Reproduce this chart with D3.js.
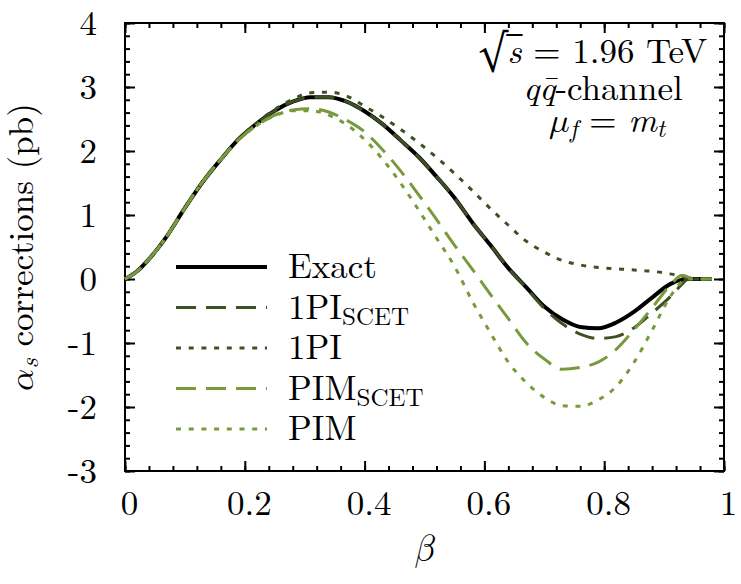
<!DOCTYPE html>
<html>
<head>
<meta charset="utf-8">
<script src="https://cdn.jsdelivr.net/npm/d3@7/dist/d3.min.js"></script>
<style>
  body { margin: 0; background: #fff; }
</style>
</head>
<body>
<div id="main"></div>
<script>
'use strict';
// - - - - - - - - - -

// data
const betaGrid = [0, 0.02, 0.04, 0.07, 0.10, 0.13, 0.16, 0.19, 0.22, 0.25, 0.28, 0.31, 0.34, 0.37, 0.40, 0.43, 0.46, 0.49, 0.52, 0.55, 0.58, 0.61, 0.64, 0.67, 0.70, 0.73, 0.76, 0.79, 0.82, 0.85, 0.88, 0.91, 0.93, 0.94, 0.96, 0.98];
const exactValues = [0, 0.12, 0.31, 0.67, 1.11, 1.52, 1.87, 2.19, 2.43, 2.63, 2.77, 2.84, 2.84, 2.77, 2.62, 2.42, 2.17, 1.91, 1.60, 1.27, 0.88, 0.53, 0.17, -0.13, -0.43, -0.63, -0.75, -0.77, -0.68, -0.51, -0.29, -0.08, -0.01, 0, 0, 0];
const onePiScetValues = [0, 0.12, 0.31, 0.67, 1.11, 1.52, 1.87, 2.19, 2.43, 2.63, 2.77, 2.84, 2.84, 2.77, 2.62, 2.42, 2.17, 1.91, 1.60, 1.27, 0.88, 0.53, 0.17, -0.14, -0.46, -0.70, -0.86, -0.93, -0.90, -0.76, -0.53, -0.28, -0.08, 0, 0, 0];
const onePiValues = [0, 0.12, 0.31, 0.67, 1.11, 1.52, 1.87, 2.19, 2.44, 2.65, 2.81, 2.91, 2.92, 2.86, 2.70, 2.53, 2.34, 2.13, 1.90, 1.65, 1.38, 1.10, 0.84, 0.59, 0.42, 0.29, 0.22, 0.18, 0.16, 0.14, 0.12, 0.08, 0.04, 0, 0, 0];
const pimScetValues = [0, 0.12, 0.31, 0.67, 1.11, 1.52, 1.87, 2.18, 2.40, 2.56, 2.64, 2.66, 2.61, 2.48, 2.30, 2.02, 1.69, 1.32, 0.93, 0.53, 0.15, -0.24, -0.62, -1.00, -1.25, -1.41, -1.38, -1.30, -1.10, -0.79, -0.45, -0.10, 0.06, 0.03, 0, 0];
const pimValues = [0, 0.12, 0.31, 0.67, 1.11, 1.52, 1.87, 2.18, 2.40, 2.55, 2.63, 2.63, 2.56, 2.41, 2.18, 1.87, 1.50, 1.08, 0.64, 0.20, -0.35, -0.84, -1.30, -1.62, -1.85, -1.98, -1.99, -1.89, -1.68, -1.30, -0.80, -0.28, -0.04, 0, 0, 0];

const seriesNames = ['Exact', '1PI', '1PI', 'PIM', 'PIM'];
const seriesSubs = ['', 'SCET', '', 'SCET', ''];
const xTicks = [0, 0.2, 0.4, 0.6, 0.8, 1];
const xTickLabels = ['0', '0.2', '0.4', '0.6', '0.8', '1'];
const yTicks = [-3, -2, -1, 0, 1, 2, 3, 4];
const yTickLabels = ['-3', '-2', '-1', '0', '1', '2', '3', '4'];

// configuration
const canvas = {
  context: '#main',
  width: 741,
  height: 584,
  padding: { top: 23, right: 17, bottom: 113, left: 125 }
};
const lm = '"Latin Modern Roman", "Liberation Serif", serif';
const lmMath = '"Latin Modern Math", "Latin Modern Roman", serif';
const stix = '"STIX Two Math", "Liberation Serif", serif';
const fontSize = 35;
const dark = '#3e5125', light = '#789a3d';
const styles = [
  { color: '#000', width: 4, dash: null },
  { color: dark, width: 3, dash: '20,10' },
  { color: dark, width: 3, dash: '5,7.7' },
  { color: light, width: 3, dash: '20,10' },
  { color: light, width: 3, dash: '5,7.7' }
];

let svg, xScale, yScale;
const plotW = canvas.width - canvas.padding.left - canvas.padding.right;
const plotH = canvas.height - canvas.padding.top - canvas.padding.bottom;

function setCanvas() {
  svg = d3.select(canvas.context).append('svg')
    .attr('width', canvas.width)
    .attr('height', canvas.height);
}

function setScales() {
  xScale = d3.scaleLinear().domain([0, 1])
    .range([canvas.padding.left, canvas.padding.left + plotW]);
  yScale = d3.scaleLinear().domain([-3, 4])
    .range([canvas.padding.top + plotH, canvas.padding.top]);
}

function styleAxis(g) {
  g.select('.domain').remove();
  g.selectAll('line').attr('stroke', '#000').attr('stroke-width', 2);
  g.selectAll('text').attr('font-family', lm).attr('font-size', fontSize).attr('fill', '#000');
}

function setAxes() {
  const bottom = canvas.padding.top + plotH, right = canvas.padding.left + plotW;
  const xMinor = d3.range(0, 1.001, 0.04), yMinor = d3.range(-3, 4.001, 0.2);

  // x axis, bottom with labels + mirrored top
  svg.append('g').attr('transform', 'translate(0,' + bottom + ')')
    .call(d3.axisBottom(xScale).tickValues(xMinor).tickSize(-5).tickFormat(''))
    .call(styleAxis);
  svg.append('g').attr('transform', 'translate(0,' + bottom + ')')
    .call(d3.axisBottom(xScale).tickValues(xTicks).tickSize(-10).tickPadding(19)
      .tickFormat((d, i) => xTickLabels[i]))
    .call(styleAxis)
    .selectAll('text').attr('dx', 4);
  svg.append('g').attr('transform', 'translate(0,' + canvas.padding.top + ')')
    .call(d3.axisTop(xScale).tickValues(xMinor).tickSize(-5).tickFormat(''))
    .call(styleAxis);
  svg.append('g').attr('transform', 'translate(0,' + canvas.padding.top + ')')
    .call(d3.axisTop(xScale).tickValues(xTicks).tickSize(-10).tickFormat(''))
    .call(styleAxis);

  // y axis, left with labels + mirrored right
  svg.append('g').attr('transform', 'translate(' + canvas.padding.left + ',0)')
    .call(d3.axisLeft(yScale).tickValues(yMinor).tickSize(-5).tickFormat(''))
    .call(styleAxis);
  svg.append('g').attr('transform', 'translate(' + canvas.padding.left + ',0)')
    .call(d3.axisLeft(yScale).tickValues(yTicks).tickSize(-10).tickPadding(28)
      .tickFormat((d, i) => yTickLabels[i]))
    .call(styleAxis);
  svg.append('g').attr('transform', 'translate(' + right + ',0)')
    .call(d3.axisRight(yScale).tickValues(yMinor).tickSize(-5).tickFormat(''))
    .call(styleAxis);
  svg.append('g').attr('transform', 'translate(' + right + ',0)')
    .call(d3.axisRight(yScale).tickValues(yTicks).tickSize(-10).tickFormat(''))
    .call(styleAxis);

  // frame
  svg.append('rect')
    .attr('x', canvas.padding.left).attr('y', canvas.padding.top)
    .attr('width', plotW).attr('height', plotH)
    .attr('fill', 'none').attr('stroke', '#000').attr('stroke-width', 2);
}

function drawLines() {
  const all = [exactValues, onePiScetValues, onePiValues, pimScetValues, pimValues];
  const line = d3.line()
    .x((d, i) => xScale(betaGrid[i]))
    .y(d => yScale(d))
    .curve(d3.curveMonotoneX);

  all.forEach((vals, k) => {
    svg.append('path')
      .datum(vals)
      .attr('d', line)
      .attr('fill', 'none')
      .attr('stroke', styles[k].color)
      .attr('stroke-width', styles[k].width)
      .attr('stroke-dasharray', styles[k].dash);
  });
}

// small helper: text element with the LaTeX-like font
function addText(x, y, size, anchor) {
  return svg.append('text')
    .attr('x', x).attr('y', y)
    .attr('font-family', lm)
    .attr('font-size', size)
    .attr('text-anchor', anchor || 'start')
    .attr('fill', '#000');
}

function drawLegend() {
  const rowY = d3.scaleLinear().domain([0, 4]).range([267, 429]);
  seriesNames.forEach((name, k) => {
    const y = rowY(k);
    svg.append('line')
      .attr('x1', 176).attr('x2', 267).attr('y1', y).attr('y2', y)
      .attr('stroke', styles[k].color)
      .attr('stroke-width', styles[k].width)
      .attr('stroke-dasharray', styles[k].dash);
    const t = addText(288, y + 11, fontSize).text(name);
    if (seriesSubs[k]) {
      t.append('tspan').attr('dy', 6).attr('font-size', 25).text(seriesSubs[k]);
    }
  });
}

function drawLabels() {
  // y axis title
  const yt = addText(0, 0, fontSize, 'middle')
    .attr('x', null).attr('y', null)
    .attr('transform', 'translate(33,' + (canvas.padding.top + plotH / 2) + ') rotate(-90)');
  yt.append('tspan').attr('font-family', lmMath).text('\u{1D6FC}');
  yt.append('tspan').attr('font-style', 'italic').attr('font-size', 25).attr('dy', 5).text('s');
  yt.append('tspan').attr('dy', -5).text(' corrections (pb)');

  // x axis title
  addText(canvas.padding.left + plotW / 2, 560, 36, 'middle')
    .attr('font-family', lmMath)
    .text('\u{1D6FD}');

  // annotation, top right
  const l1 = addText(593, 63, fontSize, 'middle');
  l1.append('tspan').attr('font-family', stix).attr('font-size', 36).text('√');
  l1.append('tspan').attr('font-style', 'italic').text('s');
  l1.append('tspan').text(' = 1.96 TeV');

  // radical bar over the s
  const sBox = l1.node().getExtentOfChar(1);
  svg.append('line')
    .attr('x1', sBox.x - 1).attr('x2', sBox.x + sBox.width + 1)
    .attr('y1', 35).attr('y2', 35)
    .attr('stroke', '#000').attr('stroke-width', 2);

  const l2 = addText(603, 100, fontSize, 'middle');
  l2.append('tspan').attr('font-style', 'italic').text('qq\u0304');
  l2.append('tspan').text('-channel');

  const l3 = addText(607, 132, fontSize, 'middle');
  l3.append('tspan').attr('font-family', lmMath).text('\u{1D707}');
  l3.append('tspan').attr('font-style', 'italic').attr('font-size', 25).attr('dy', 5).text('f');
  l3.append('tspan').attr('dy', -5).text(' = ');
  l3.append('tspan').attr('font-style', 'italic').text('m');
  l3.append('tspan').attr('font-style', 'italic').attr('font-size', 25).attr('dy', 5).text('t');
}

// control
setCanvas();
setScales();
setAxes();
drawLines();
drawLegend();
drawLabels();
</script>
</body>
</html>
